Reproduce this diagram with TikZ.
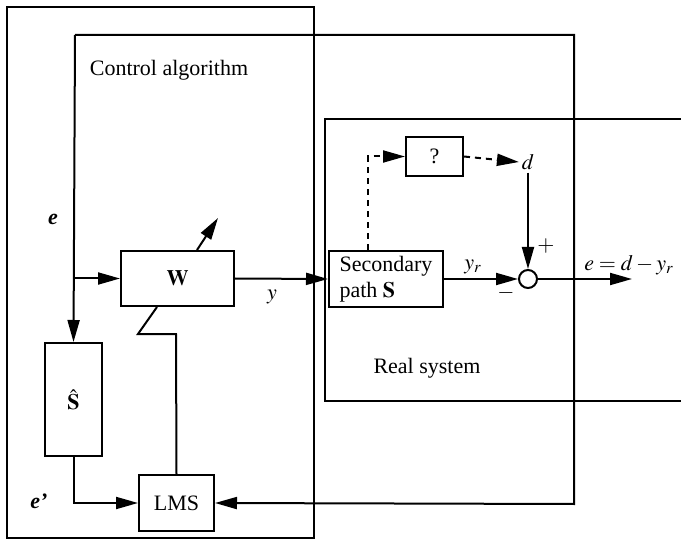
\documentclass[tikz,border=0pt]{standalone}
\usepackage{mathptmx}
\usepackage[no-math]{fontspec}
\setmainfont{Liberation Serif}
\usetikzlibrary{arrows.meta}

\tikzset{
    blk/.style={draw, rectangle, line width=1pt, inner sep=2pt},
    lbl/.style={inner sep=1pt},
}

\begin{document}
\begin{tikzpicture}[x=0.5pt, y=-0.5pt, line width=1pt,
    >={Triangle[length=11pt,width=6pt]},
    font=\fontsize{11}{13}\selectfont]

    \useasboundingbox (0,0) rectangle (681,540);

    % Control algorithm frame
    \draw (7,7) rectangle (314,538);
    \node[lbl] (ctrl) at (169,70) {Control algorithm};

    % Real system frame (open to the right)
    \draw (681,119) -- (325,119) -- (325,401) -- (681,401);
    \node[lbl] (real) at (427,368) {Real system};

    % Blocks
    \node[blk, minimum width=56.5pt, minimum height=27.5pt] (W) at (177.5,278.5) {$\mathbf{W}$};
    \node[blk, minimum width=28.5pt, minimum height=56.5pt] (shat) at (73.5,399.5) {$\hat{\mathbf{S}}$};
    \node[blk, minimum width=37.5pt, minimum height=28pt] (lms) at (176.5,503) {LMS};
    \node[blk, minimum width=57pt, minimum height=28pt, align=left] (sec) at (386,279)
        {Secondary\\path $\mathbf{S}$};
    \node[blk, minimum width=28.5pt, minimum height=19.5pt] (unk) at (434.5,156.5) {?};
    \node[draw, circle, minimum size=9pt, inner sep=0pt] (sum) at (528,279) {};

    % Feedback corners
    \coordinate (fbtl) at (75,35);
    \coordinate (fbtr) at (574,35);
    \coordinate (fbbr) at (574,504);
    \coordinate (eout) at (632,279);

    % Feedback of e
    \draw[->] (fbtl) -- (fbtr) -- (fbbr) -- (lms.east);
    \draw[->] (fbtl) -- (shat.north);
    \draw[->] (W.west -| fbtl) -- (W.west);
    \draw[->] (shat.south) |- (lms.west);

    % LMS adapts W
    \draw (lms.north) -- (176,334) -- (138,334) -- ([xshift=-10.25pt]W.south);
    \draw[->] ([xshift=9.75pt]W.north) -- ++(21,-32);

    % Forward path
    \draw[->] (W.east) -- (sec.west);
    \node[lbl] (y) at (272,297) {$y$};
    \draw[->] (sec.east) -- (sum.west);
    \node[lbl] (yr) at (473,267) {$y_r$};

    % Disturbance path
    \node[lbl] (d) at (528,162) {$d$};
    \draw[->, dashed, dash pattern=on 3pt off 2.5pt] ([xshift=-9pt]sec.north) |- (unk.west);
    \draw[->, dashed, dash pattern=on 3pt off 2.5pt] (unk.east) -- (d.west);
    \draw[->] (d.south) -- (sum.north);
    \node[lbl] (plus) at (546,246) {$+$};
    \node[lbl] (minus) at (506,293) {$-$};

    % Error output
    \draw[->] (sum.east) -- (eout);
    \node[lbl] (eq) at (629,265) {$e = d - y_r$};

    % Signal labels
    \node[lbl] (e) at (53,219) {\bfseries\itshape e};
    \node[lbl] (ep) at (39,501) {\bfseries\itshape e'};

\end{tikzpicture}
\end{document}
